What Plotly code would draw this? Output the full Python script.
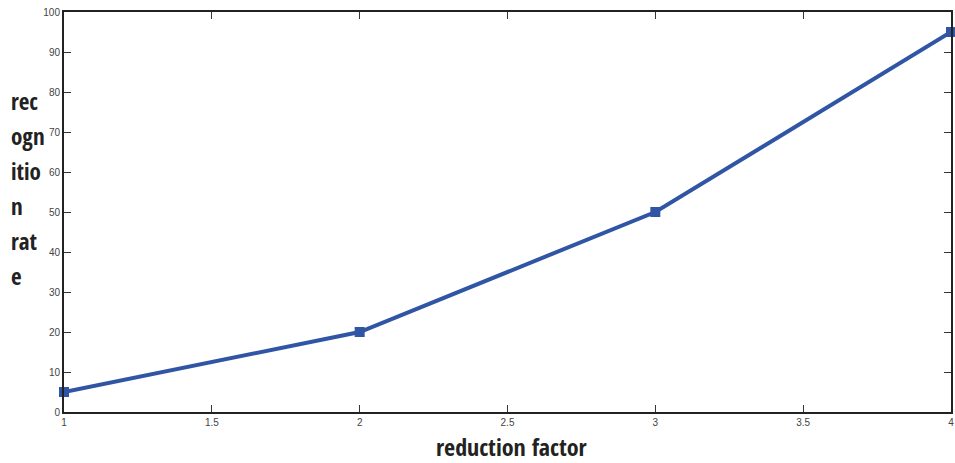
import plotly.graph_objects as go

reduction_factor = [1, 2, 3, 4]
recognition_rate = [5, 20, 50, 95]
x_ticks = [1, 1.5, 2, 2.5, 3, 3.5, 4]
x_tick_labels = ["1", "1.5", "2", "2.5", "3", "3.5", "4"]
y_ticks = [0, 10, 20, 30, 40, 50, 60, 70, 80, 90, 100]
y_label_lines = ["rec", "ogn", "itio", "n", "rat", "e"]
x_title = "reduction factor"

W, H = 955, 463
ML, MR, MT, MB = 64, 1, 12, 51
PW, PH = W - ML - MR, H - MT - MB

fig = go.Figure()
fig.add_trace(go.Scatter(
    x=reduction_factor, y=recognition_rate, mode="lines+markers",
    line=dict(color="#2f55a4", width=4),
    marker=dict(color="#2f55a4", size=10, symbol="square"),
    showlegend=False, cliponaxis=False,
))

axis_common = dict(
    showgrid=False, zeroline=False, showline=True, linecolor="#222222", linewidth=2,
    mirror="ticks", ticks="inside", ticklen=7, tickcolor="#333333", tickwidth=1,
    ticklabeloverflow="allow",
    tickfont=dict(family="Liberation Sans, Arial, sans-serif", size=10, color="#444444"),
)
fig.update_xaxes(range=[1, 4], tickvals=x_ticks, ticktext=x_tick_labels, **axis_common)
fig.update_yaxes(range=[0, 100], tickvals=y_ticks, **axis_common)

label_family = "Open Sans Condensed, Roboto Condensed, sans-serif"
for i, line in enumerate(y_label_lines):
    ypx = 101 + 35 * i  # centre of the line, px from figure top
    fig.add_annotation(
        text="<b>" + line + "</b>", xref="paper", yref="paper",
        x=-(ML - 9) / PW, xanchor="left",
        y=1 - (ypx - MT) / PH, yanchor="middle",
        showarrow=False, font=dict(family=label_family, size=23, color="#222222"),
    )

fig.add_annotation(
    text="<b>" + x_title + "</b>", xref="paper", yref="paper",
    x=(514 - ML) / PW, xanchor="center",
    y=-(446 - MT - PH) / PH, yanchor="middle",
    showarrow=False, font=dict(family=label_family, size=24, color="#222222"),
)

fig.update_layout(
    width=W, height=H, margin=dict(l=ML, r=MR, t=MT, b=MB),
    plot_bgcolor="white", paper_bgcolor="white",
)
fig.write_html(
    "out.html",
    config={"displayModeBar": False},
    post_script="document.body.style.margin='0';document.body.style.overflow='hidden';",
)
